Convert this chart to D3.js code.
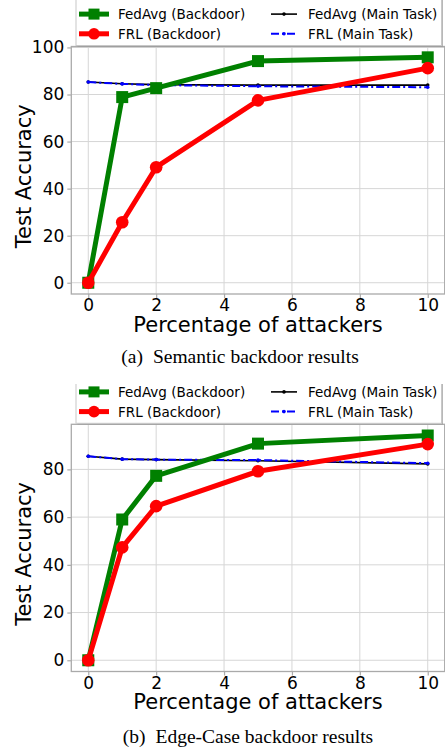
<!DOCTYPE html>
<html>
<head>
<meta charset="utf-8">
<script src="https://cdn.jsdelivr.net/npm/d3@7"></script>
<style>
  html, body { margin: 0; padding: 0; background: #fff; }
  svg { display: block; }
</style>
</head>
<body>
<svg id="chart" width="445" height="747"></svg>
<script>
// ---- data ----
const attackers = [0, 1, 2, 5, 10];
const xTicks = [0, 2, 4, 6, 8, 10];

const semFedAvgBackdoor = [0, 78.9, 82.7, 94.2, 95.8];
const semFRLBackdoor    = [0, 25.7, 49.1, 77.5, 91.2];
const semFedAvgMain     = [85.3, 84.6, 84.2, 84.0, 84.0];
const semFRLMain        = [85.3, 84.5, 84.0, 83.5, 83.1];
const semYTicks = [0, 20, 40, 60, 80, 100];

const edgeFedAvgBackdoor = [0, 59.0, 77.3, 90.8, 94.2];
const edgeFRLBackdoor    = [0, 47.3, 64.6, 79.2, 90.6];
const edgeFedAvgMain     = [85.5, 84.3, 84.1, 83.6, 82.3];
const edgeFRLMain        = [85.5, 84.3, 84.1, 83.9, 82.6];
const edgeYTicks = [0, 20, 40, 60, 80];

const legendLabels = ["FedAvg (Backdoor)", "FRL (Backdoor)", "FedAvg (Main Task)", "FRL (Main Task)"];
const captions = ["(a)", "Semantic backdoor results", "(b)", "Edge-Case backdoor results"];

const svg = d3.select("#chart");
const FONT = "DejaVu Sans, sans-serif";
const defs = svg.append("defs");

function drawPanel(cfg, idx) {
  const clipId = "clip" + idx;
  defs.append("clipPath").attr("id", clipId).append("rect")
    .attr("x", 0).attr("y", cfg.clipTop).attr("width", 445).attr("height", 747);
  const g = svg.append("g");
  const x = d3.scaleLinear().domain([-0.5, 10.5]).range([cfg.left, cfg.right]);
  const y = d3.scaleLinear().domain(cfg.yDomain).range([cfg.bottom, cfg.top]);

  // grid
  g.append("g").selectAll("line.vg").data(xTicks).join("line")
    .attr("x1", d => x(d)).attr("x2", d => x(d))
    .attr("y1", cfg.top).attr("y2", cfg.bottom)
    .attr("stroke", "#d6d6d6").attr("stroke-width", 1);
  g.append("g").selectAll("line.hg").data(cfg.yTicks).join("line")
    .attr("x1", cfg.left).attr("x2", cfg.right)
    .attr("y1", d => y(d)).attr("y2", d => y(d))
    .attr("stroke", "#d6d6d6").attr("stroke-width", 1);

  // spines
  g.append("rect").attr("x", cfg.left).attr("y", cfg.top)
    .attr("width", cfg.right - cfg.left).attr("height", cfg.bottom - cfg.top)
    .attr("fill", "none").attr("stroke", "#aaaaaa").attr("stroke-width", 1.3);

  // axes
  const xAxis = d3.axisBottom(x).tickValues(xTicks).tickSize(4).tickPadding(1).tickFormat(d3.format("d"));
  const yAxis = d3.axisLeft(y).tickValues(cfg.yTicks).tickSize(4).tickPadding(3).tickFormat(d3.format("d"));
  const gx = g.append("g").attr("transform", `translate(0,${cfg.bottom})`).call(xAxis);
  const gy = g.append("g").attr("transform", `translate(${cfg.left},0)`).call(yAxis);
  [gx, gy].forEach(a => {
    a.select(".domain").remove();
    a.selectAll(".tick line").attr("stroke", "#aaaaaa").attr("stroke-width", 1.2);
    a.selectAll(".tick text").attr("fill", "#000").attr("font-family", FONT).attr("font-size", 17);
  });

  // axis labels
  g.append("text").attr("x", (cfg.left + cfg.right) / 2).attr("y", cfg.bottom + 37.5)
    .attr("text-anchor", "middle").attr("font-family", FONT).attr("font-size", 21)
    .text("Percentage of attackers");
  g.append("text").attr("transform", `translate(31,${(cfg.top + cfg.bottom) / 2 + 6}) rotate(-90)`)
    .attr("text-anchor", "middle").attr("font-family", FONT).attr("font-size", 21)
    .text("Test Accuracy");

  const line = d3.line().x((d, i) => x(attackers[i])).y(d => y(d));
  const plot = g.append("g");

  // main task lines
  plot.append("path").datum(cfg.fedMain).attr("d", line)
    .attr("fill", "none").attr("stroke", "#000").attr("stroke-width", 1.6);
  plot.append("g").selectAll("circle").data(cfg.fedMain).join("circle")
    .attr("cx", (d, i) => x(attackers[i])).attr("cy", d => y(d)).attr("r", 1.8).attr("fill", "#000");
  plot.append("path").datum(cfg.frlMain).attr("d", line)
    .attr("fill", "none").attr("stroke", "#0000ff").attr("stroke-width", 2)
    .attr("stroke-dasharray", "8,3,2,3");
  plot.append("g").selectAll("circle").data(cfg.frlMain).join("circle")
    .attr("cx", (d, i) => x(attackers[i])).attr("cy", d => y(d)).attr("r", 1.8).attr("fill", "#0000ff");

  // backdoor lines
  plot.append("path").datum(cfg.fedBD).attr("d", line)
    .attr("fill", "none").attr("stroke", "#008000").attr("stroke-width", 5).attr("stroke-linejoin", "round");
  plot.append("g").selectAll("rect").data(cfg.fedBD).join("rect")
    .attr("x", (d, i) => x(attackers[i]) - 6).attr("y", d => y(d) - 6)
    .attr("width", 12).attr("height", 12).attr("fill", "#008000");
  plot.append("path").datum(cfg.frlBD).attr("d", line)
    .attr("fill", "none").attr("stroke", "#ff0000").attr("stroke-width", 5).attr("stroke-linejoin", "round");
  plot.append("g").selectAll("circle").data(cfg.frlBD).join("circle")
    .attr("cx", (d, i) => x(attackers[i])).attr("cy", d => y(d)).attr("r", 6.3).attr("fill", "#ff0000");

  // legend (clipped at top like the cropped figure)
  const lg = g.append("g").attr("clip-path", `url(#${clipId})`);
  lg.append("rect").attr("x", 77.5).attr("y", cfg.top - 60).attr("width", 365.5).attr("height", 60)
    .attr("fill", "#888").attr("opacity", 0.6);
  lg.append("rect").attr("x", 76).attr("y", cfg.top - 62).attr("width", 365.5).attr("height", 61)
    .attr("fill", "#fff").attr("stroke", "#c8c8c8").attr("stroke-width", 1);
  const rows = [cfg.top - 27.2, cfg.top - 7.5];
  const colX = [79, 271];
  const textX = [118, 308];
  const items = [
    {c: 0, r: 0, label: legendLabels[0], type: "square"},
    {c: 0, r: 1, label: legendLabels[1], type: "circle"},
    {c: 1, r: 0, label: legendLabels[2], type: "black"},
    {c: 1, r: 1, label: legendLabels[3], type: "blue"}
  ];
  items.forEach(it => {
    const yy = rows[it.r] - 5.2;
    const x0 = colX[it.c], x1 = colX[it.c] + (it.c === 0 ? 30 : 26);
    const cx = (x0 + x1) / 2;
    if (it.type === "square") {
      lg.append("line").attr("x1", x0).attr("x2", x1).attr("y1", yy).attr("y2", yy)
        .attr("stroke", "#008000").attr("stroke-width", 5);
      lg.append("rect").attr("x", cx - 5.5).attr("y", yy - 5.5).attr("width", 11).attr("height", 11).attr("fill", "#008000");
    } else if (it.type === "circle") {
      lg.append("line").attr("x1", x0).attr("x2", x1).attr("y1", yy).attr("y2", yy)
        .attr("stroke", "#ff0000").attr("stroke-width", 5);
      lg.append("circle").attr("cx", cx).attr("cy", yy).attr("r", 5.8).attr("fill", "#ff0000");
    } else if (it.type === "black") {
      lg.append("line").attr("x1", x0).attr("x2", x1).attr("y1", yy).attr("y2", yy)
        .attr("stroke", "#000").attr("stroke-width", 1.6);
      lg.append("circle").attr("cx", cx).attr("cy", yy).attr("r", 1.8).attr("fill", "#000");
    } else {
      lg.append("line").attr("x1", x0).attr("x2", x1).attr("y1", yy).attr("y2", yy)
        .attr("stroke", "#0000ff").attr("stroke-width", 2).attr("stroke-dasharray", "8,3,2,3");
      lg.append("circle").attr("cx", cx).attr("cy", yy).attr("r", 1.8).attr("fill", "#0000ff");
    }
    lg.append("text").attr("x", textX[it.c]).attr("y", rows[it.r])
      .attr("font-family", FONT).attr("font-size", 13.5).attr("fill", "#000").text(it.label);
  });

  // caption
  const cap = svg.append("text").attr("x", cfg.capX).attr("y", cfg.capY)
    .attr("text-anchor", "middle").attr("font-family", "Liberation Serif, Times New Roman, serif")
    .attr("font-size", 19.5).attr("fill", "#000");
  cap.append("tspan").text(cfg.cap[0]);
  cap.append("tspan").attr("dx", 10).text(cfg.cap[1]);
}

drawPanel({
  left: 71.3, right: 444.7, top: 46.5, bottom: 294, clipTop: 0,
  yDomain: [-4.79, 100.4], yTicks: semYTicks,
  fedBD: semFedAvgBackdoor, frlBD: semFRLBackdoor, fedMain: semFedAvgMain, frlMain: semFRLMain,
  cap: [captions[0], captions[1]], capX: 240, capY: 363
}, 0);
drawPanel({
  left: 71.3, right: 444.7, top: 424.3, bottom: 671.5, clipTop: 384,
  yDomain: [-4.71, 98.9], yTicks: edgeYTicks,
  fedBD: edgeFedAvgBackdoor, frlBD: edgeFRLBackdoor, fedMain: edgeFedAvgMain, frlMain: edgeFRLMain,
  cap: [captions[2], captions[3]], capX: 248, capY: 742.5
}, 1);
</script>
</body>
</html>
